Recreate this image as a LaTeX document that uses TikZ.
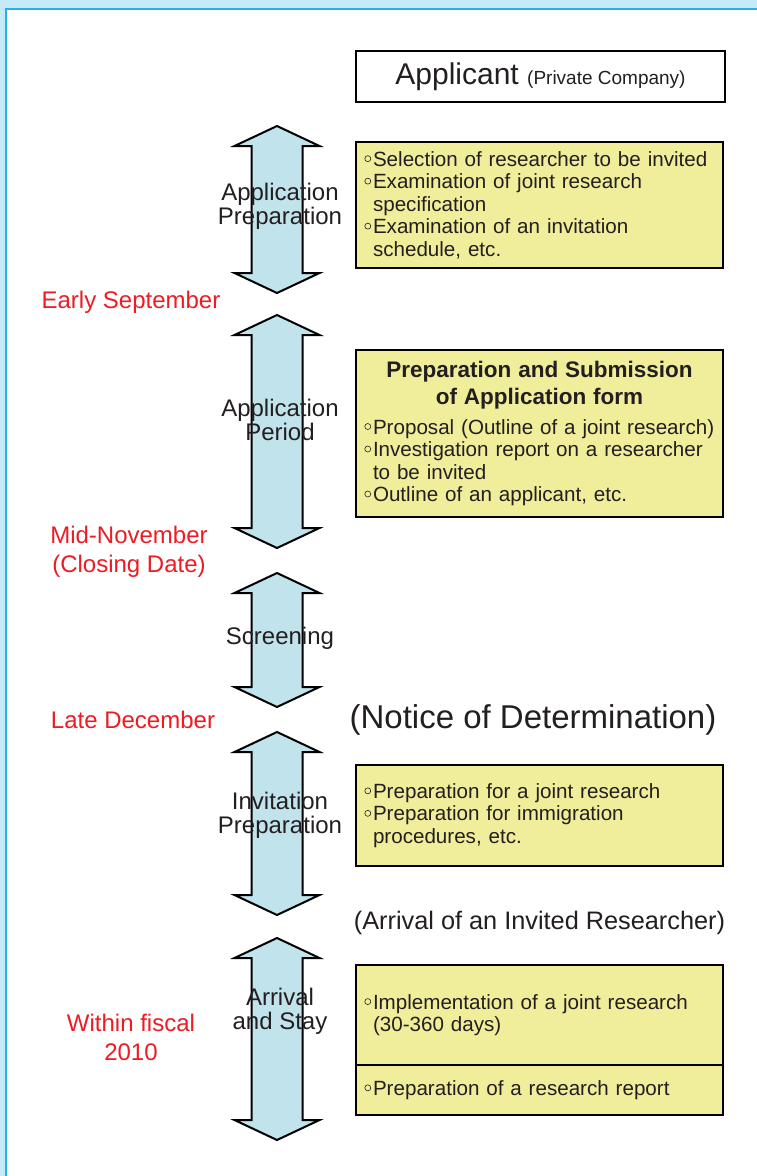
\documentclass[tikz,border=0pt]{standalone}
\usepackage{fontspec}
\setmainfont{Liberation Sans}
\usetikzlibrary{arrows.meta}
\definecolor{bgblue}{RGB}{197,234,248}
\definecolor{framecol}{RGB}{38,178,230}
\definecolor{arrowfill}{RGB}{193,227,236}
\definecolor{boxfill}{RGB}{240,238,155}
\definecolor{redlbl}{RGB}{237,28,36}
\definecolor{textcol}{RGB}{35,31,32}
\hyphenpenalty=10000
\tikzset{
	phase arrow/.style={draw=black, line width=2pt, fill=arrowfill, line join=miter},
	phase label/.style={align=center, inner sep=0pt, text=textcol, font=\fontsize{24}{24}\selectfont},
	date label/.style={align=center, inner sep=0pt, text=redlbl, font=\fontsize{24}{29}\selectfont},
	task box/.style={draw=black, line width=2.5pt, fill=boxfill, minimum width=367, inner xsep=7pt, inner ysep=0pt,
		text width=353pt, align=left, text=textcol, font=\fontsize{20.6}{22.5}\selectfont}
}
\newcommand{\bul}{\makebox[10pt][l]{\hspace*{1.5pt}\tikz[baseline={(0,-7.5pt)}]\draw[line width=0.6pt] (0,0) circle (3pt);}}
\newcommand{\ind}{\hspace*{10pt}}

\begin{document}
\begin{tikzpicture}[x=1pt, y=-1pt]
	\useasboundingbox (0,0) rectangle (757,1176);
	\fill[bgblue] (0,0) rectangle (757,1176);
	\filldraw[fill=white, draw=framecol, line width=1.5pt] (6,9) rectangle (775,1195);

	% applicant
	\node[draw=black, line width=2pt, fill=white, minimum width=369, minimum height=51, text=textcol] at (540.5,76.5) (applicant)
		{{\fontsize{30}{30}\selectfont Applicant\ }{\fontsize{19}{20}\selectfont (Private Company)}};

	% time arrows
	\foreach \ya/\yb in {126/293, 315/548, 573/707, 732/915, 938/1140}
		\draw[phase arrow] (277,\ya) -- (319.5,\ya+20) -- (302.5,\ya+20) -- (302.5,\yb-20) -- (319.5,\yb-20)
			-- (277,\yb) -- (234.5,\yb-20) -- (251.5,\yb-20) -- (251.5,\ya+20) -- (234.5,\ya+20) -- cycle;

	\node[phase label] at (280,206) (prep-label) {Application\\Preparation};
	\node[phase label] at (280,420) (period-label) {Application\\Period};
	\node[phase label] at (280,638) (screen-label) {Screening};
	\node[phase label] at (280,815) (invite-label) {Invitation\\Preparation};
	\node[phase label] at (280,1011) (stay-label) {Arrival\\and Stay};

	% dates
	\node[date label] at (131,302) (early-sep) {Early September};
	\node[date label] at (129,552) (mid-nov) {Mid-November\\(Closing Date)};
	\node[date label] at (133,720) (late-dec) {Late December};
	\node[date label] at (131,1037) (fiscal) {Within fiscal\\2010};

	% tasks
	\node[task box, minimum height=126] at (539.5,205) (prep-box)
		{\bul Selection of researcher to be invited\\\bul Examination of joint research\\\ind specification\\\bul Examination of an invitation\\\ind schedule, etc.};
	\node[task box, minimum height=167] at (539.5,433.5) (form-box)
		{\makebox[353pt]{\fontsize{22.5}{27}\selectfont\bfseries Preparation and Submission}\\[4.5pt]
		 \makebox[353pt]{\fontsize{22.5}{27}\selectfont\bfseries of Application form}\\[7pt]
		 \bul Proposal (Outline of a joint research)\\\bul Investigation report on a researcher\\\ind to be invited\\\bul Outline of an applicant, etc.};
	\node[align=center, text=textcol, font=\fontsize{33}{33}\selectfont] at (533,720) (notice) {(Notice of Determination)};
	\node[task box, minimum height=101] at (539.5,815.5) (invite-box)
		{\bul Preparation for a joint research\\\bul Preparation for immigration\\\ind procedures, etc.};
	\node[align=center, text=textcol, font=\fontsize{25.3}{26}\selectfont] at (539.5,923) (arrival) {(Arrival of an Invited Researcher)};
	\node[task box, minimum height=100] at (539.5,1015) (stay-box)
		{\bul Implementation of a joint research\\\ind (30-360 days)\\[4pt]};
	\node[task box, minimum height=50] at (539.5,1090) (report-box)
		{\bul Preparation of a research report};
\end{tikzpicture}
\end{document}
